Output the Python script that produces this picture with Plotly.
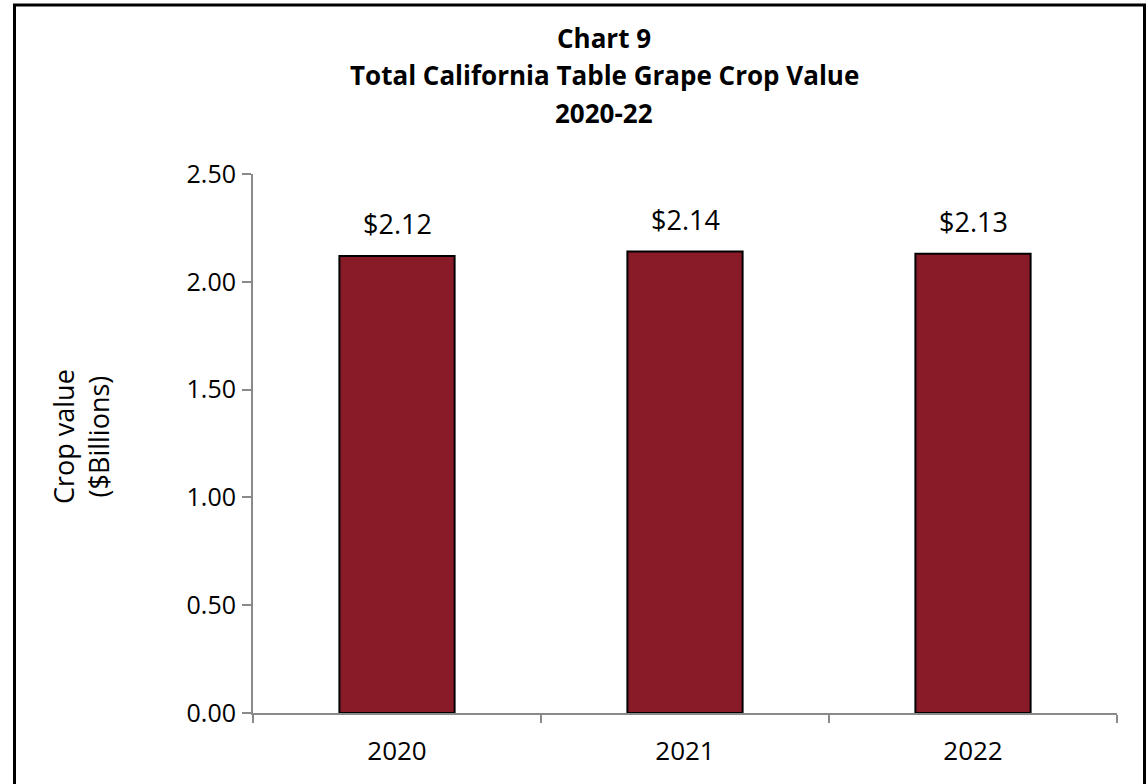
import plotly.graph_objects as go

years = ["2020", "2021", "2022"]
values = [2.12, 2.14, 2.13]
title_lines = ["Chart 9", "Total California Table Grape Crop Value", "2020-22"]
y_title_lines = ["Crop value", "($Billions)"]

FONT = "Open Sans"
W, H = 1147, 784
L, R, T, B = 253, 30, 174, 71
pw, ph = W - L - R, H - T - B

def px_x(px):
    return (px - L) / pw

def px_y(py):
    return (H - B - py) / ph

fig = go.Figure()
fig.add_trace(go.Bar(
    x=years, y=values,
    marker=dict(color="#891A27", line=dict(color="black", width=2)),
))

title_y = [38, 75, 113]
annotations = [dict(
    text=f"<b>{s}</b>", xref="paper", yref="paper",
    x=px_x(604), y=px_y(yc), xanchor="center", yanchor="middle",
    showarrow=False, font=dict(family=FONT, size=26, color="black"),
) for s, yc in zip(title_lines, title_y)]

# data labels (x = category serial index on the category axis)
for i, v in enumerate(values):
    annotations.append(dict(
        text=f"${v:.2f}", x=i, y=v, xref="x", yref="y",
        xanchor="center", yanchor="bottom", yshift=12,
        showarrow=False, font=dict(family=FONT, size=27, color="black"),
    ))

annotations.append(dict(
    text="<br>".join(y_title_lines),
    xref="paper", yref="paper",
    x=px_x(81), y=px_y(437),
    xanchor="center", yanchor="middle",
    textangle=-90, showarrow=False,
    font=dict(family=FONT, size=27, color="black"),
))

fig.update_layout(
    width=W, height=H,
    margin=dict(l=L, r=R, t=T, b=B, autoexpand=False),
    paper_bgcolor="white", plot_bgcolor="white",
    bargap=0.6,
    showlegend=False,
    font=dict(family=FONT, color="black"),
    xaxis=dict(
        type="category",
        range=[-0.5, len(years) - 0.5],
        showline=True, linecolor="#8a8a8a", linewidth=2,
        ticks="outside", tickson="boundaries", ticklen=8, tickcolor="#8a8a8a", tickwidth=2,
        tickfont=dict(family=FONT, size=26, color="black"),
        tickangle=0,
        ticklabelstandoff=14,
        showgrid=False,
    ),
    yaxis=dict(
        range=[0, 2.5], dtick=0.5, tickformat=".2f",
        showline=True, linecolor="#8a8a8a", linewidth=2,
        ticks="outside", ticklen=9, tickcolor="#8a8a8a", tickwidth=2,
        tickfont=dict(family=FONT, size=25, color="black"),
        ticklabelstandoff=1,
        showgrid=False, zeroline=False,
    ),
    annotations=annotations,
    shapes=[dict(
        type="rect", xref="paper", yref="paper",
        x0=px_x(14.5), x1=px_x(1144.5),
        y0=px_y(800), y1=px_y(5),
        line=dict(color="black", width=3),
        layer="above",
    )],
)

fig.write_html("out.html", config={"displayModeBar": False},
               post_script="document.body.style.margin='0';")
